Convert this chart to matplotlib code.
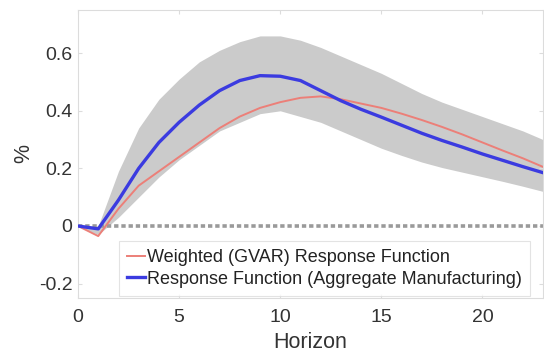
import matplotlib
matplotlib.use("Agg")
import matplotlib.pyplot as plt

plt.rcParams['font.family'] = ['Liberation Sans', 'DejaVu Sans']

horizon = list(range(0, 24))

# Aggregate manufacturing response
aggregate = [0.0, -0.01, 0.09, 0.20, 0.29, 0.36, 0.42, 0.47, 0.505, 0.522, 0.52, 0.505,
             0.47, 0.435, 0.405, 0.378, 0.35, 0.322, 0.297, 0.274, 0.25, 0.228, 0.206, 0.185]

# Weighted GVAR response
weighted = [0.0, -0.035, 0.06, 0.14, 0.19, 0.24, 0.29, 0.34, 0.38, 0.41, 0.43, 0.445,
            0.45, 0.44, 0.425, 0.41, 0.39, 0.368, 0.344, 0.318, 0.29, 0.262, 0.235, 0.205]

# Confidence band around the aggregate response
band_upper = [0.0, 0.0, 0.19, 0.34, 0.44, 0.51, 0.57, 0.61, 0.64, 0.66, 0.66, 0.645,
              0.62, 0.59, 0.56, 0.53, 0.495, 0.46, 0.43, 0.405, 0.38, 0.355, 0.33, 0.30]
band_lower = [0.0, -0.03, 0.03, 0.10, 0.17, 0.23, 0.28, 0.33, 0.36, 0.39, 0.40, 0.38,
              0.36, 0.33, 0.30, 0.27, 0.245, 0.222, 0.203, 0.187, 0.171, 0.155, 0.138, 0.12]

xticks = [0, 5, 10, 15, 20]
yticks = [-0.2, 0, 0.2, 0.4, 0.6]
ytick_labels = ['-0.2', '0', '0.2', '0.4', '0.6']

fig = plt.figure(figsize=(5.44, 3.58), dpi=100)
ax = fig.add_axes([0.1434, 0.1676, 0.855, 0.8045])

ax.fill_between(horizon, band_lower, band_upper, color='#cbcbcb', linewidth=0, zorder=1)
ax.axhline(0, color='#9a9a9a', linestyle=(0, (1.2, 0.8)), linewidth=2.6, zorder=2)
ax.plot(horizon, weighted, color='#ec7f78', linewidth=1.4, zorder=3,
        label='Weighted (GVAR) Response Function')
ax.plot(horizon, aggregate, color='#3b3be0', linewidth=2.4, zorder=4,
        label='Response Function (Aggregate Manufacturing)')

ax.set_xlim(0, 23)
ax.set_ylim(-0.25, 0.75)
ax.set_xticks(xticks)
ax.set_yticks(yticks)
ax.set_yticklabels(ytick_labels)

for side in ax.spines.values():
    side.set_color('#dcdcdc')
    side.set_linewidth(0.8)
ax.tick_params(direction='in', length=3, color='#dcdcdc', labelcolor='#333333',
               labelsize=14, top=True, right=True, pad=4)
ax.tick_params(axis='x', pad=8)

ax.set_xlabel('Horizon', fontsize=15.5, color='#333333', labelpad=4)
ax.set_ylabel('%', fontsize=15.5, color='#333333', labelpad=3)

leg = ax.legend(loc='lower right', bbox_to_anchor=(0.972, 0.008), fontsize=13,
                frameon=True, fancybox=False, handlelength=1.0, handletextpad=0.1,
                borderpad=0.45, labelspacing=0.25, borderaxespad=0)
leg.get_frame().set_edgecolor('#dcdcdc')
leg.get_frame().set_linewidth(0.8)
for t in leg.get_texts():
    t.set_color('#222222')

fig.savefig('out.png', dpi=100)
